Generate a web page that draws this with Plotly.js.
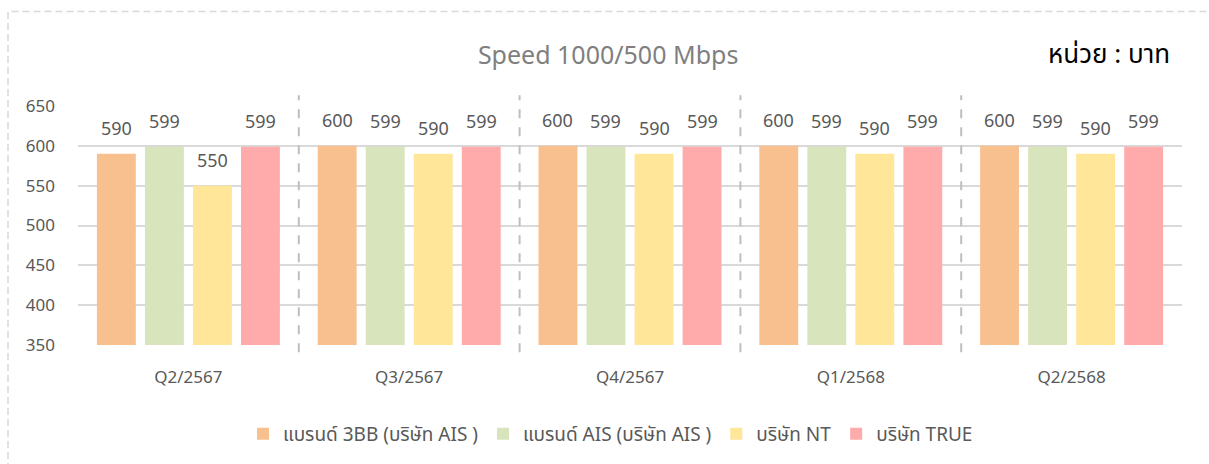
<!DOCTYPE html>
<html>
<head>
<meta charset="utf-8">
<script src="https://cdn.plot.ly/plotly-3.0.1.min.js"></script>
<style>
  html, body { margin: 0; padding: 0; background: #fff; width: 1209px; height: 464px; overflow: hidden; }
  #chart { position: absolute; left: 0; top: 0; width: 1209px; height: 464px; }
  #frame { position: absolute; left: 0; top: 0; width: 1209px; height: 464px; pointer-events: none; z-index: 5; }
</style>
</head>
<body>
<div id="chart"></div>
<svg id="frame" width="1209" height="464" xmlns="http://www.w3.org/2000/svg">
  <polyline points="8,470 8,11.5 1215,11.5" fill="none" stroke="#d9d9d9" stroke-width="1.5" stroke-dasharray="7 4"/>
</svg>
<script>
const categories = ["Q2/2567", "Q3/2567", "Q4/2567", "Q1/2568", "Q2/2568"];
const seriesNames = ["แบรนด์ 3BB (บริษัท AIS )", "แบรนด์ AIS (บริษัท AIS )", "บริษัท NT", "บริษัท TRUE"];
const values3BB  = [590, 600, 600, 600, 600];
const valuesAIS  = [599, 599, 599, 599, 599];
const valuesNT   = [550, 590, 590, 590, 590];
const valuesTRUE = [599, 599, 599, 599, 599];
const colors = ["#F9C08F", "#D8E4BC", "#FFE699", "#FFABAB"];
const yTicks = [350, 400, 450, 500, 550, 600, 650];

const FONT = '"Noto Sans", "Noto Sans Thai", "Open Sans", sans-serif';
const allSeries = [values3BB, valuesAIS, valuesNT, valuesTRUE];
const BARGAP = 0.13;
const nSer = allSeries.length;

const traces = allSeries.map((vals, i) => ({
  type: 'bar',
  name: seriesNames[i],
  x: categories,
  y: vals,
  marker: { color: colors[i], line: { width: 0 } },
  hoverinfo: 'skip'
}));

// data labels placed at each bar's centre (category index + group offset) and value
const labelAnnotations = [];
allSeries.forEach((vals, i) => {
  const offset = (i - (nSer - 1) / 2) * (1 - BARGAP) / nSer;
  vals.forEach((v, c) => {
    labelAnnotations.push({
      xref: 'x', yref: 'y',
      x: c + offset, y: v,
      text: String(v),
      showarrow: false,
      xanchor: 'center', yanchor: 'middle',
      yshift: 26,
      font: { family: FONT, size: 18, color: '#595959' }
    });
  });
});

const shapes = categories.slice(1).map((c, i) => ({
  type: 'line', xref: 'x', yref: 'paper',
  x0: i + 0.5, x1: i + 0.5, y0: -0.03, y1: 1.045,
  line: { color: '#bfbfbf', width: 2, dash: 'dash' }
}));

const layout = {
  width: 1209, height: 464,
  margin: { l: 78, r: 27, t: 106, b: 119 },
  paper_bgcolor: '#ffffff', plot_bgcolor: '#ffffff',
  font: { family: FONT, color: '#595959' },
  title: {
    text: 'Speed 1000/500 Mbps',
    font: { family: FONT, size: 25, color: '#7f7f7f' },
    x: 0.503, xref: 'container', xanchor: 'center',
    y: 0.88, yref: 'container', yanchor: 'middle'
  },
  barmode: 'group',
  bargap: BARGAP,
  bargroupgap: 0.19,
  showlegend: true,
  legend: {
    orientation: 'h', x: 0.505, xanchor: 'center', xref: 'container',
    y: 0.065, yref: 'container', yanchor: 'middle',
    font: { family: FONT, size: 19, color: '#595959' },
    itemwidth: 30, traceorder: 'normal'
  },
  xaxis: {
    type: 'category',
    range: [-0.5, categories.length - 0.5],
    showgrid: false, zeroline: false, showline: false,
    ticks: '', ticklabelstandoff: 20,
    tickfont: { family: FONT, size: 17, color: '#595959' },
    fixedrange: true
  },
  yaxis: {
    range: [350, 650],
    tickvals: yTicks,
    ticktext: yTicks.map(String),
    showgrid: true, gridcolor: '#d9d9d9', gridwidth: 2,
    zeroline: false, showline: false,
    ticks: '', ticklabelstandoff: 22,
    tickfont: { family: FONT, size: 17, color: '#595959' },
    fixedrange: true
  },
  shapes: shapes,
  annotations: labelAnnotations.concat([{
    text: 'หน่วย : บาท',
    xref: 'paper', yref: 'paper',
    x: 0.991, xanchor: 'right',
    y: 1.22, yanchor: 'middle',
    showarrow: false,
    font: { family: FONT, size: 26, color: '#000000' }
  }])
};

Plotly.newPlot('chart', traces, layout, { displayModeBar: false, staticPlot: true });
</script>
</body>
</html>
